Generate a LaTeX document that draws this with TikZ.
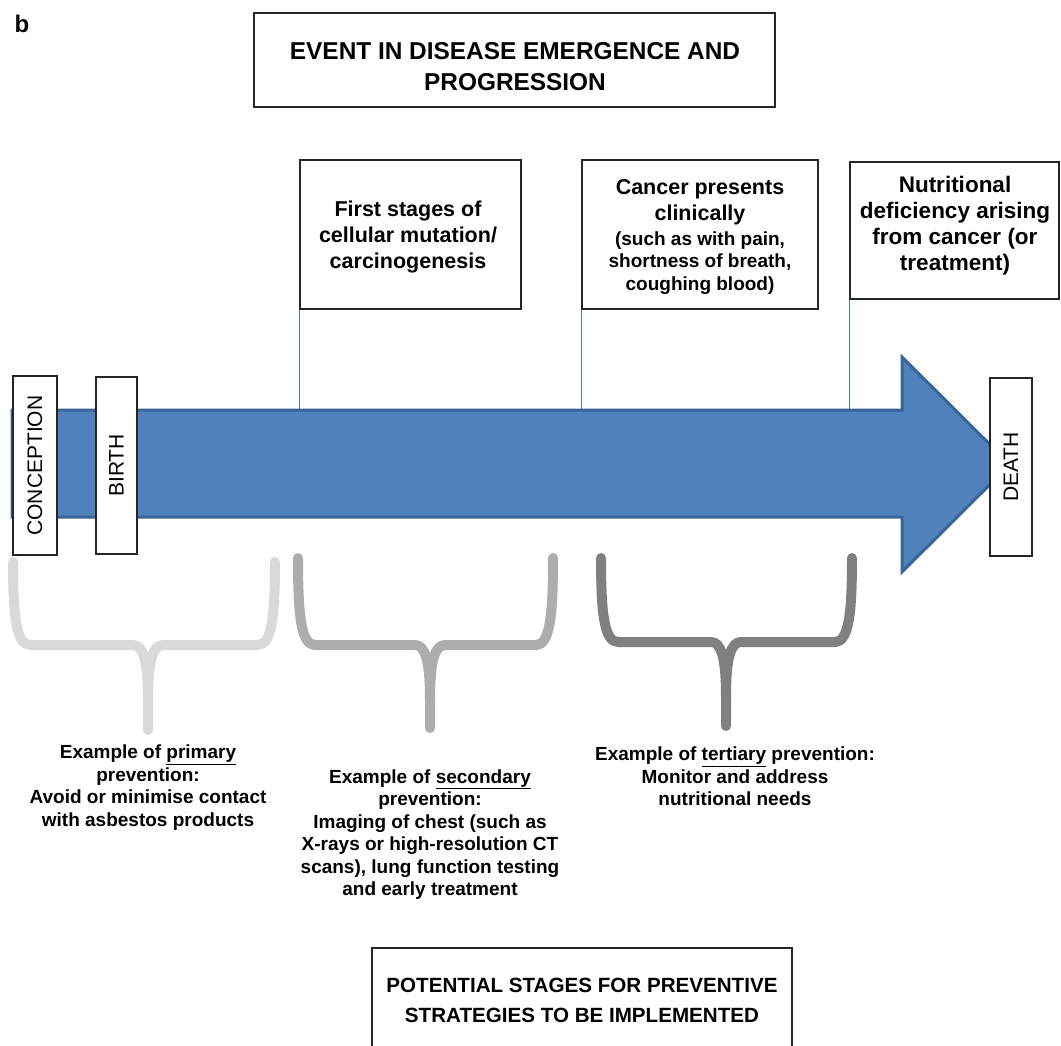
\documentclass[tikz,border=0pt]{standalone}
\usepackage{fontspec}
\setmainfont{Liberation Sans}
\definecolor{arrowfill}{HTML}{4F81BD}
\definecolor{arrowline}{HTML}{3A6496}
\definecolor{linkblue}{HTML}{4A7EC7}
\definecolor{brA}{HTML}{D9D9D9}
\definecolor{brB}{HTML}{ADADAD}
\definecolor{brC}{HTML}{808080}
\begin{document}
\begin{tikzpicture}[x=1pt,y=-1pt,
  boxframe/.style={draw=black!85, line width=1.3pt, fill=white, inner sep=0pt},
  titletext/.style={font=\bfseries\fontsize{24.4}{31}\selectfont, align=center, inner sep=0pt},
  bottomtitle/.style={font=\bfseries\fontsize{20.6}{30}\selectfont, align=center, inner sep=0pt},
  eventtext/.style={font=\bfseries\fontsize{21.5}{26}\selectfont, align=center, inner sep=0pt},
  smalltext/.style={font=\bfseries\fontsize{19}{22.5}\selectfont, align=center, inner sep=0pt},
  lifetext/.style={boxframe, rotate=90, font=\fontsize{21}{25}\selectfont},
  link/.style={draw=linkblue, line width=1.2pt},
  brace/.style={line width=10pt, line cap=round, line join=round}
]
\useasboundingbox (0,0) rectangle (1061,1045);
\clip (0,0) rectangle (1061,1045);

% panel label
\node[font=\bfseries\fontsize{24}{28}\selectfont, inner sep=0pt] (lbl) at (22,24) {b};

% title box
\node[boxframe, minimum width=521pt, minimum height=94pt] (titlebox) at (514.5,60) {};
\node[titletext] (title) at (515,67) {EVENT IN DISEASE EMERGENCE AND\\PROGRESSION};

% event boxes
\node[boxframe, minimum width=221pt, minimum height=149pt] (first) at (410.5,234.5) {};
\node[eventtext] (firsttxt) at (408,237) {First stages of\\cellular mutation/\\carcinogenesis};

\node[boxframe, minimum width=236pt, minimum height=149pt] (cancer) at (700,234.5) {};
\node[eventtext] (cancertxt) at (700,202) {Cancer presents\\clinically};
\node[smalltext] (cancersub) at (700,263) {(such as with pain,\\shortness of breath,\\coughing blood)};

\node[boxframe, minimum width=209pt, minimum height=137pt] (nutri) at (954.5,230.5) {};
\node[eventtext, font=\bfseries\fontsize{22.5}{26}\selectfont] (nutritxt) at (955,226) {Nutritional\\deficiency arising\\from cancer (or\\treatment)};

% arrow top reference
\coordinate (atop) at (0,410);

% connectors
\draw[link] (first.south west) -- (first.south west |- atop);
\draw[link] (cancer.south west) -- (cancer.south west |- atop);
\draw[link] (nutri.south west) -- (nutri.south west |- atop);

% main arrow
\draw[fill=arrowfill, draw=arrowline, line width=3pt, line join=miter]
  (12,410) -- (902,410) -- (902,357) -- (1010,464.5) -- (902,572) -- (902,517) -- (12,517) -- cycle;

% life boxes
\node[lifetext, minimum width=179pt, minimum height=44pt] (conc) at (35,465.5) {CONCEPTION};
\node[lifetext, minimum width=177pt, minimum height=41pt] (birth) at (116.5,465.5) {BIRTH};
\node[lifetext, minimum width=178pt, minimum height=42pt] (death) at (1011,467) {DEATH};

% brackets
\draw[brace, brA] (13,562) .. controls (13,615) and (16,645) .. (30,645) -- (133,645) .. controls (143,645) and (148,660) .. (148,700) -- (148,730);
\draw[brace, brA] (275,562) .. controls (275,615) and (272,645) .. (258,645) -- (163,645) .. controls (153,645) and (148,660) .. (148,700);

\draw[brace, brB] (298,558) .. controls (298,615) and (301,645) .. (315,645) -- (415,645) .. controls (425,645) and (430,660) .. (430,700) -- (430,728);
\draw[brace, brB] (553,558) .. controls (553,615) and (550,645) .. (536,645) -- (445,645) .. controls (435,645) and (430,660) .. (430,700);

\draw[brace, brC] (601,558) .. controls (601,612) and (604,642) .. (618,642) -- (711,642) .. controls (721,642) and (726,657) .. (726,697) -- (726,726);
\draw[brace, brC] (852,558) .. controls (852,612) and (849,642) .. (835,642) -- (741,642) .. controls (731,642) and (726,657) .. (726,697);

% prevention texts
\node[smalltext] (prim) at (148,787.5) {Example of \underline{primary}\\prevention:\\Avoid or minimise contact\\with asbestos products};
\node[smalltext] (sec) at (430,834.5) {Example of \underline{secondary}\\prevention:\\Imaging of chest (such as\\X-rays or high-resolution CT\\scans), lung function testing\\and early treatment};
\node[smalltext] (ter) at (735,776.5) {Example of \underline{tertiary} prevention:\\Monitor and address\\nutritional needs};

% bottom box
\node[boxframe, minimum width=420pt, minimum height=104pt] (bottombox) at (582,1000) {};
\node[bottomtitle] (bottomtxt) at (582,1000) {POTENTIAL STAGES FOR PREVENTIVE\\STRATEGIES TO BE IMPLEMENTED};
\end{tikzpicture}
\end{document}
